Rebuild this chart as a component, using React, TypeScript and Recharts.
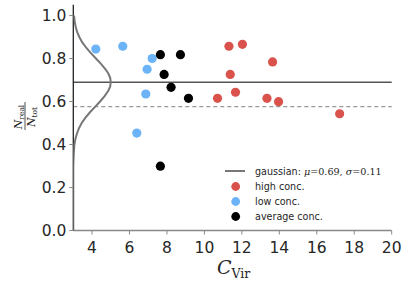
import React from "react";
import {
  ComposedChart,
  Scatter,
  XAxis,
  YAxis,
  ReferenceLine,
  Legend,
} from "recharts";

// C_vir, N_real/N_tot
const highConc = [
  { x: 11.31, y: 0.857 },
  { x: 12.03, y: 0.866 },
  { x: 13.64, y: 0.784 },
  { x: 11.38, y: 0.726 },
  { x: 11.66, y: 0.643 },
  { x: 10.7, y: 0.615 },
  { x: 13.34, y: 0.615 },
  { x: 13.96, y: 0.599 },
  { x: 17.22, y: 0.543 },
];
const lowConc = [
  { x: 4.2, y: 0.844 },
  { x: 5.64, y: 0.857 },
  { x: 7.21, y: 0.8 },
  { x: 6.94, y: 0.75 },
  { x: 6.87, y: 0.635 },
  { x: 6.39, y: 0.453 },
];
const avgConc = [
  { x: 7.65, y: 0.818 },
  { x: 8.72, y: 0.818 },
  { x: 7.85, y: 0.726 },
  { x: 8.22, y: 0.666 },
  { x: 9.15, y: 0.615 },
  { x: 7.65, y: 0.299 },
];
// gaussian curve drawn sideways along the y axis
const gaussCurve = [
  { y: 0.0, x: 3.0 },
  { y: 0.3, x: 3.0 },
  { y: 0.35, x: 3.02 },
  { y: 0.4, x: 3.06 },
  { y: 0.425, x: 3.11 },
  { y: 0.45, x: 3.19 },
  { y: 0.475, x: 3.3 },
  { y: 0.5, x: 3.45 },
  { y: 0.525, x: 3.65 },
  { y: 0.55, x: 3.89 },
  { y: 0.575, x: 4.16 },
  { y: 0.6, x: 4.43 },
  { y: 0.625, x: 4.67 },
  { y: 0.65, x: 4.87 },
  { y: 0.67, x: 4.97 },
  { y: 0.69, x: 5.0 },
  { y: 0.71, x: 4.97 },
  { y: 0.73, x: 4.87 },
  { y: 0.75, x: 4.72 },
  { y: 0.775, x: 4.48 },
  { y: 0.8, x: 4.21 },
  { y: 0.825, x: 3.94 },
  { y: 0.85, x: 3.69 },
  { y: 0.875, x: 3.48 },
  { y: 0.9, x: 3.32 },
  { y: 0.925, x: 3.2 },
  { y: 0.95, x: 3.12 },
  { y: 0.975, x: 3.07 },
  { y: 1.0, x: 3.04 },
];
const gaussMean = 0.69;
const dashedLevel = 0.576;
const xTicks = [4, 6, 8, 10, 12, 14, 16, 18, 20];
const yTicks = [0, 0.2, 0.4, 0.6, 0.8, 1.0];
const legendLabels = ["high conc.", "low conc.", "average conc."];

const RED = "#d9534c";
const BLUE = "#6cb4f7";
const BLACK = "#000000";

const dot = (color: string) => (props: any) => (
  <circle cx={props.cx} cy={props.cy} r={4.6} fill={color} />
);

const LegendBox = () => {
  const lx = 225;
  const rows = [171, 186.5, 201.5, 216.5];
  const colors = [RED, BLUE, BLACK];
  const tf = { fontFamily: "DejaVu Sans", fontSize: 9.6, fill: "#262626" };
  return (
    <svg width={407} height={284} style={{ position: "absolute", left: 0, top: 0, pointerEvents: "none" }}>
      <line x1={lx} x2={lx + 20} y1={rows[0]} y2={rows[0]} stroke="#777" strokeWidth={2} />
      <text x={lx + 30} y={rows[0] + 3.5} {...tf}>
        gaussian:{" "}
        <tspan fontFamily="DejaVu Serif" fontStyle="italic">μ</tspan>
        <tspan fontFamily="DejaVu Serif">=0.69, </tspan>
        <tspan fontFamily="DejaVu Serif" fontStyle="italic">σ</tspan>
        <tspan fontFamily="DejaVu Serif">=0.11</tspan>
      </text>
      {legendLabels.map((l, i) => (
        <g key={l}>
          <circle cx={lx + 10.7} cy={rows[i + 1]} r={4.4} fill={colors[i]} />
          <text x={lx + 30} y={rows[i + 1] + 3.5} {...tf}>
            {l}
          </text>
        </g>
      ))}
      {/* x label */}
      <text x={217} y={274} fontFamily="DejaVu Serif" fontSize={19} fontStyle="italic" fill="#262626">
        C
        <tspan fontStyle="normal" fontSize={12.5} dy={4}>
          Vir
        </tspan>
      </text>
      {/* y label */}
      <g transform="translate(25,116) rotate(-90)">
        <line x1={-14} x2={14} y1={0} y2={0} stroke="#262626" strokeWidth={0.8} />
        <text x={-1} y={-3} textAnchor="middle" fontFamily="DejaVu Serif" fontSize={11} fontStyle="italic" fill="#262626">
          N
          <tspan fontStyle="normal" fontSize={7.5} dy={2}>
            real
          </tspan>
        </text>
        <text x={-1} y={10} textAnchor="middle" fontFamily="DejaVu Serif" fontSize={11} fontStyle="italic" fill="#262626">
          N
          <tspan fontStyle="normal" fontSize={7.5} dy={2}>
            tot
          </tspan>
        </text>
      </g>
    </svg>
  );
};

export default function App() {
  const tickStyle = { fontFamily: "DejaVu Sans", fontSize: 15.5, fill: "#262626" };
  return (
    <div style={{ position: "absolute", left: 0, top: 0, width: 407, height: 284 }}>
      <ComposedChart
        width={407}
        height={284}
        margin={{ top: 4.75, right: 15.3, bottom: 23.5, left: 0 }}
      >
        <XAxis
          type="number"
          dataKey="x"
          domain={[3, 20]}
          ticks={xTicks}
          allowDataOverflow
          height={30}
          tick={tickStyle}
          tickSize={4}
          tickMargin={7}
          stroke="#888"
          axisLine={{ stroke: "#888", strokeWidth: 1.3 }}
          tickLine={{ stroke: "#888" }}
        />
        <YAxis
          type="number"
          dataKey="y"
          domain={[0, 1.05]}
          ticks={yTicks}
          allowDataOverflow
          width={73.3}
          tick={tickStyle}
          tickFormatter={(v: number) => v.toFixed(1)}
          tickSize={4}
          tickMargin={3}
          axisLine={{ stroke: "#222", strokeWidth: 1.3 }}
          tickLine={{ stroke: "#888" }}
        />
        <ReferenceLine y={gaussMean} stroke="#555" strokeWidth={1.5} />
        <ReferenceLine y={dashedLevel} stroke="#999" strokeWidth={1.2} strokeDasharray="4 3" />
        <Scatter
          data={gaussCurve}
          line={{ stroke: "#777", strokeWidth: 2 }}
          lineType="joint"
          shape={() => <g />}
          isAnimationActive={false}
        />
        <Scatter data={highConc} fill={RED} shape={dot(RED)} isAnimationActive={false} />
        <Scatter data={lowConc} fill={BLUE} shape={dot(BLUE)} isAnimationActive={false} />
        <Scatter data={avgConc} fill={BLACK} shape={dot(BLACK)} isAnimationActive={false} />
      </ComposedChart>
      <LegendBox />
    </div>
  );
}
